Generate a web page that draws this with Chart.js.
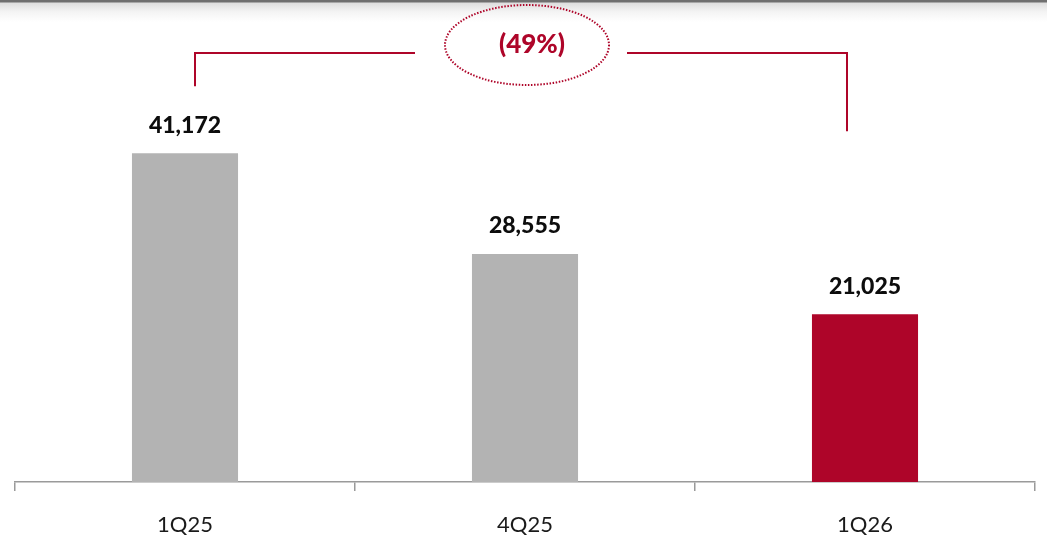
<!DOCTYPE html>
<html>
<head>
<meta charset="utf-8">
<script src="https://cdn.jsdelivr.net/npm/chart.js@4"></script>
<style>
  html, body { margin: 0; padding: 0; }
  body {
    width: 1047px; height: 542px; overflow: hidden;
    background: linear-gradient(to bottom, #6f6f6f 0px, #6f6f6f 2px, #dedede 3px, #f4f4f4 12px, #ffffff 22px);
  }
  #wrap { position: relative; width: 1047px; height: 542px; }
</style>
</head>
<body>
<div id="wrap"><canvas id="chart"></canvas></div>
<script>
// quarterly values
const quarters = ['1Q25', '4Q25', '1Q26'];
const amounts = [41172, 28555, 21025];
const barColors = ['#b3b3b3', '#b3b3b3', '#ae0529'];
const changeLabel = '(49%)';

const RED = '#ae0529';

// numbers over each bar
const valueLabels = {
  id: 'valueLabels',
  afterDatasetsDraw(chart) {
    const { ctx } = chart;
    const meta = chart.getDatasetMeta(0);
    ctx.save();
    ctx.font = '900 23px Lato';
    ctx.fillStyle = '#0d0d0d';
    ctx.textAlign = 'center';
    ctx.textBaseline = 'middle';
    meta.data.forEach((bar, i) => {
      ctx.fillText(amounts[i].toLocaleString('en-US'), bar.x, bar.y - 28);
    });
    ctx.restore();
  }
};

// bracket from first to last bar with the % change bubble
const changeBracket = {
  id: 'changeBracket',
  afterDraw(chart) {
    const { ctx } = chart;
    const x = chart.scales.x;
    const y = chart.scales.y;
    const x1 = x.getPixelForValue(0) + 10;
    const x2 = x.getPixelForValue(2) - 18;
    const top = 53;
    const y1 = y.getPixelForValue(amounts[0]) - 67;
    const y2 = y.getPixelForValue(amounts[2]) - 183;
    const midX = (x1 + x2) / 2;

    ctx.save();
    ctx.strokeStyle = RED;
    ctx.lineWidth = 2;
    ctx.beginPath();
    ctx.moveTo(x1, y1);
    ctx.lineTo(x1, top);
    ctx.lineTo(midX - 106, top);
    ctx.moveTo(midX + 106, top);
    ctx.lineTo(x2, top);
    ctx.lineTo(x2, y2);
    ctx.stroke();

    // dotted ellipse
    ctx.lineWidth = 2;
    ctx.setLineDash([1.5, 1.6]);
    ctx.beginPath();
    ctx.ellipse(midX + 6, 45, 82, 40, 0, 0, Math.PI * 2);
    ctx.stroke();
    ctx.setLineDash([]);

    ctx.font = '900 26px Lato';
    ctx.fillStyle = RED;
    ctx.textAlign = 'center';
    ctx.textBaseline = 'middle';
    ctx.fillText(changeLabel, midX + 11, 45);
    ctx.restore();
  }
};

new Chart(document.getElementById('chart'), {
  type: 'bar',
  data: {
    labels: quarters,
    datasets: [{
      data: amounts,
      backgroundColor: barColors,
      categoryPercentage: 1,
      barPercentage: 0.312
    }]
  },
  options: {
    responsive: true,
    maintainAspectRatio: false,
    animation: false,
    layout: { padding: { top: 3, left: 15, right: 12, bottom: 0 } },
    plugins: { legend: { display: false }, tooltip: { enabled: false } },
    scales: {
      x: {
        afterFit(axis) { axis.height = 60; },
        border: { display: true, color: '#9a9a9a', width: 1.5 },
        grid: {
          offset: true,
          drawOnChartArea: false,
          drawTicks: true,
          tickLength: 9,
          color: '#9a9a9a',
          lineWidth: 1.5
        },
        ticks: {
          padding: 21,
          color: '#1a1a1a',
          font: { family: 'Lato', size: 22 }
        }
      },
      y: {
        display: false,
        min: 0,
        max: 60000
      }
    }
  },
  plugins: [valueLabels, changeBracket]
});
</script>
</body>
</html>
